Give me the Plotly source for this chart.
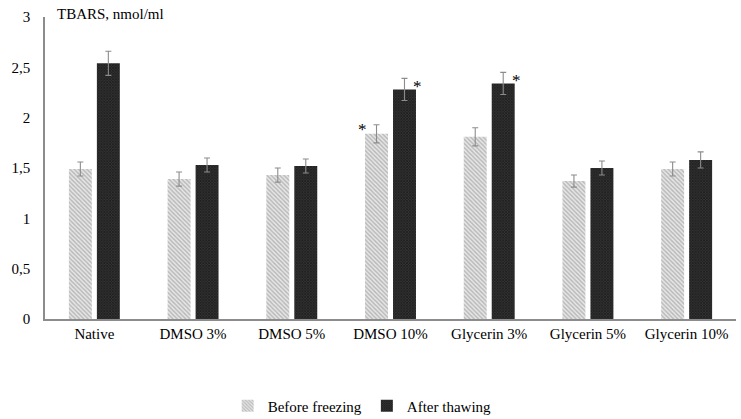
import plotly.graph_objects as go

categories = ["Native", "DMSO 3%", "DMSO 5%", "DMSO 10%", "Glycerin 3%", "Glycerin 5%", "Glycerin 10%"]
before = [1.49, 1.39, 1.43, 1.84, 1.81, 1.37, 1.49]
before_err = [0.07, 0.07, 0.07, 0.09, 0.09, 0.06, 0.07]
after = [2.54, 1.53, 1.52, 2.28, 2.34, 1.50, 1.58]
after_err = [0.12, 0.07, 0.07, 0.11, 0.11, 0.07, 0.08]
before_star = [None, None, None, "*", None, None, None]
after_star = [None, None, None, "*", "*", None, None]
y_ticks = [0, 0.5, 1, 1.5, 2, 2.5, 3]

FONT = "Liberation Serif, Times New Roman, serif"

fig = go.Figure()
fig.add_trace(go.Bar(
    x=categories, y=before, name="Before freezing",
    marker=dict(color="white", line=dict(width=0),
                pattern=dict(shape="\\", fgcolor="#8a8a8a", bgcolor="#e8e8e8", size=3, solidity=0.5)),
    error_y=dict(type="data", array=before_err, color="#8c8c8c", thickness=1.1, width=3),
))
fig.add_trace(go.Bar(
    x=categories, y=after, name="After thawing",
    marker=dict(color="#1a1a1a", line=dict(width=0),
                pattern=dict(shape="x", fgcolor="#050505", bgcolor="#333333", size=2, solidity=0.6)),
    error_y=dict(type="data", array=after_err, color="#8c8c8c", thickness=1.1, width=3),
))

for i, c in enumerate(categories):
    if before_star[i]:
        fig.add_annotation(x=c, y=before[i], text=before_star[i], showarrow=False,
                           xshift=-28, yshift=4, font=dict(family=FONT, size=17, color="#000000"))
    if after_star[i]:
        fig.add_annotation(x=c, y=after[i], text=after_star[i], showarrow=False,
                           xshift=27, yshift=3, font=dict(family=FONT, size=17, color="#000000"))

fig.add_annotation(xref="paper", yref="paper", x=0, y=1.0, xanchor="left", yanchor="middle",
                   xshift=10, yshift=3, text="TBARS, nmol/ml", showarrow=False,
                   font=dict(family=FONT, size=15, color="black"))

fig.update_layout(
    width=741, height=419,
    margin=dict(l=45, r=5, t=17, b=100, autoexpand=False),
    plot_bgcolor="white", paper_bgcolor="white",
    barmode="group", bargap=0.433, bargroupgap=0.18,
    separators=", ",
    font=dict(family=FONT, size=15, color="black"),
    showlegend=True,
    legend=dict(orientation="h", x=0.459, xanchor="center", yref="container", y=0.031, yanchor="middle",
                font=dict(family=FONT, size=15), itemwidth=30, traceorder="normal"),
    xaxis=dict(showline=True, linecolor="#8c8c8c", linewidth=1.5, ticks="", showgrid=False,
               tickfont=dict(family=FONT, size=15)),
    yaxis=dict(range=[0, 3], tickvals=y_ticks, showline=True, linecolor="#8c8c8c", linewidth=1.5,
               showgrid=False, ticks="", zeroline=False, tickformat=".1~f", ticklabelstandoff=10,
               tickfont=dict(family=FONT, size=15)),
)

fig.write_html("out.html", config={"displayModeBar": False},
               post_script="document.body.style.margin='0px';document.body.style.overflow='hidden';")
